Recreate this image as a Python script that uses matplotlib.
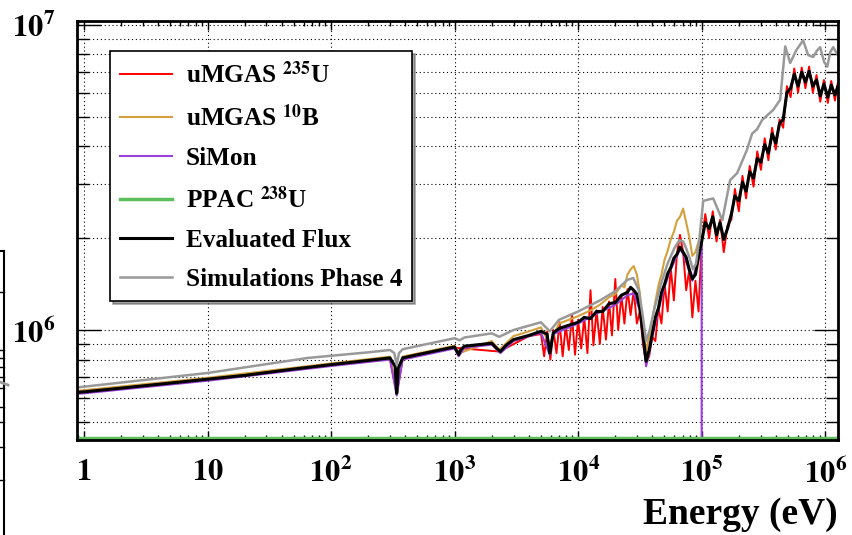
import numpy as np
import matplotlib
matplotlib.use("Agg")
import matplotlib.pyplot as plt
from matplotlib.lines import Line2D
from matplotlib.ticker import LogLocator, FixedLocator, FuncFormatter, NullFormatter

plt.rcParams['font.family'] = ['Liberation Serif', 'DejaVu Serif']
plt.rcParams['mathtext.fontset'] = 'stix'

# Energies in eV, fluxes in units of 1e6

# Evaluated flux (black)
E_eval = [0.88, 1, 2, 5, 10, 20, 50, 100, 200, 300, 330, 340, 350, 380, 500,
          1000, 1080, 1120, 1200, 2000, 2200, 2350, 2600, 3000, 4000, 5000, 5600,
          5900, 6300, 7000, 8000,
          1.00e4, 1.12e4, 1.26e4, 1.41e4, 1.58e4, 1.78e4, 2.00e4, 2.24e4, 2.51e4,
          2.66e4, 2.82e4, 2.99e4, 3.16e4, 3.35e4, 3.55e4, 3.76e4, 3.98e4, 4.22e4,
          4.47e4, 4.73e4, 5.01e4, 5.31e4, 5.62e4, 5.96e4, 6.31e4, 6.68e4, 7.08e4,
          7.50e4, 7.94e4, 8.41e4, 8.91e4, 9.44e4,
          1.00e5, 1.07e5, 1.15e5, 1.23e5, 1.32e5, 1.41e5, 1.51e5, 1.62e5, 1.74e5,
          1.86e5, 2.00e5, 2.14e5, 2.29e5, 2.45e5, 2.63e5, 2.82e5, 3.02e5, 3.24e5,
          3.47e5, 3.72e5, 3.98e5, 4.27e5, 4.57e5, 4.90e5, 5.25e5, 5.62e5, 6.03e5,
          6.46e5, 6.92e5, 7.41e5, 7.94e5, 8.51e5, 9.12e5, 9.77e5, 1.05e6, 1.12e6,
          1.20e6, 1.26e6]
flux_eval = [0.625, 0.627, 0.645, 0.670, 0.690, 0.710, 0.745, 0.770, 0.795, 0.810,
             0.760, 0.620, 0.750, 0.810, 0.830,
             0.880, 0.830, 0.860, 0.885, 0.905, 0.870, 0.850, 0.890, 0.930, 0.960,
             0.990, 0.970, 0.840, 0.980, 1.010, 1.030,
             1.06, 1.10, 1.09, 1.15, 1.15, 1.22, 1.23, 1.30, 1.33,
             1.38, 1.35, 1.31, 1.18, 0.97, 0.79, 0.86, 0.97, 1.10,
             1.18, 1.33, 1.41, 1.53, 1.60, 1.72, 1.77, 1.87, 1.80,
             1.73, 1.58, 1.47, 1.52, 1.74,
             1.95, 2.25, 2.15, 2.35, 2.05, 2.25, 1.98, 2.15, 2.40,
             2.75, 2.65, 3.05, 2.85, 3.30, 3.15, 3.65, 3.55, 4.05,
             3.80, 4.40, 4.10, 4.75, 4.90, 6.00, 6.20, 6.90, 6.30,
             7.00, 6.50, 7.05, 6.30, 6.60, 5.85, 6.40, 5.80, 6.35,
             5.90, 6.25]

# uMGAS 235U (red)
E_u235 = [0.88, 1, 10, 100, 300, 340, 380, 1000, 2300, 4000,
          5.01e3, 5.31e3, 5.62e3, 5.96e3, 6.31e3, 6.68e3, 7.08e3, 7.50e3, 7.94e3,
          8.41e3, 8.91e3, 9.44e3, 1.00e4, 1.06e4, 1.12e4, 1.19e4, 1.26e4, 1.33e4,
          1.41e4, 1.50e4, 1.58e4, 1.68e4, 1.78e4, 1.88e4, 2.00e4, 2.11e4, 2.24e4,
          2.37e4, 2.51e4, 2.66e4, 2.82e4, 2.99e4, 3.16e4, 3.35e4, 3.55e4, 3.76e4,
          3.98e4, 4.22e4, 4.47e4, 4.73e4, 5.01e4, 5.31e4, 5.62e4, 5.96e4, 6.31e4,
          6.68e4, 7.08e4, 7.50e4, 7.94e4, 8.41e4, 8.91e4, 9.44e4, 1.00e5,
          1.07e5, 1.15e5, 1.23e5, 1.32e5, 1.41e5, 1.51e5, 1.62e5, 1.74e5, 1.86e5,
          2.00e5, 2.14e5, 2.29e5, 2.45e5, 2.63e5, 2.82e5, 3.02e5, 3.24e5, 3.47e5,
          3.72e5, 3.98e5, 4.27e5, 4.57e5, 4.90e5, 5.25e5, 5.62e5, 6.03e5, 6.46e5,
          6.92e5, 7.41e5, 7.94e5, 8.51e5, 9.12e5, 9.77e5, 1.05e6, 1.12e6, 1.20e6,
          1.26e6]
flux_u235 = [0.625, 0.627, 0.688, 0.767, 0.805, 0.620, 0.805, 0.875, 0.850, 0.955,
             0.97, 0.82, 0.99, 0.80, 1.00, 0.84, 1.06, 0.82, 1.03,
             0.86, 1.12, 0.83, 1.08, 0.87, 1.10, 0.84, 1.35, 0.89,
             1.16, 0.90, 1.19, 0.93, 1.24, 0.96, 1.47, 1.00, 1.30,
             1.05, 1.36, 1.12, 1.35, 1.05, 1.15, 0.90, 0.78, 0.82,
             0.95, 0.92, 1.18, 1.05, 1.42, 1.15, 1.60, 1.25, 1.78,
             2.05, 1.80, 1.35, 1.58, 1.10, 1.45, 1.15, 1.95,
             2.40, 2.00, 2.45, 1.95, 2.30, 1.80, 2.20, 2.30, 2.90,
             2.45, 3.20, 2.70, 3.45, 2.95, 3.85, 3.35, 4.25, 3.60,
             4.60, 3.90, 4.90, 4.60, 6.30, 5.80, 7.20, 6.00, 7.25,
             6.20, 7.30, 6.00, 6.85, 5.60, 6.60, 5.55, 6.55, 5.65,
             6.40]

# uMGAS 10B (orange)
E_b10 = [0.88, 1, 10, 100, 300, 340, 380, 1000, 1100, 2000, 2300, 3000, 4000,
         5000, 5900, 7000, 1.0e4, 1.26e4, 1.5e4, 1.78e4, 2.0e4, 2.24e4, 2.37e4,
         2.51e4, 2.66e4, 2.82e4, 2.99e4, 3.16e4, 3.35e4, 3.55e4, 3.76e4, 3.98e4,
         4.22e4, 4.47e4, 4.73e4, 5.01e4, 5.31e4, 5.62e4, 5.96e4, 6.31e4, 6.68e4,
         7.08e4, 7.50e4, 7.94e4, 8.41e4, 8.91e4, 9.44e4, 1.0e5]
flux_b10 = [0.632, 0.635, 0.697, 0.777, 0.818, 0.630, 0.818, 0.888, 0.840, 0.920,
            0.860, 0.955, 0.990, 1.02, 0.90, 1.05, 1.11, 1.16, 1.21, 1.28, 1.31,
            1.40, 1.38, 1.52, 1.58, 1.62, 1.52, 1.32, 1.02, 0.85, 0.95, 1.08,
            1.24, 1.40, 1.52, 1.70, 1.82, 1.98, 2.10, 2.28, 2.35, 2.50, 2.25,
            2.02, 1.75, 1.80, 1.95, 2.05]

# SiMon (purple), drops off-scale at 100 keV
E_simon = [0.88, 1, 10, 100, 300, 340, 380, 1000, 1080, 1200, 2000, 2350, 3000,
           5000, 5900, 6300, 1.0e4, 1.41e4, 2.0e4, 2.51e4, 2.82e4, 3.16e4, 3.35e4,
           3.55e4, 3.76e4, 3.98e4, 4.47e4, 5.01e4, 5.62e4, 6.31e4, 6.68e4, 7.08e4,
           7.94e4, 8.41e4, 9.44e4, 1.0e5, 1.0e5]
flux_simon = [0.618, 0.620, 0.682, 0.762, 0.800, 0.610, 0.800, 0.870, 0.820,
              0.875, 0.895, 0.840, 0.920, 0.980, 0.830, 0.970, 1.05, 1.13, 1.21,
              1.30, 1.32, 1.16, 0.95, 0.76, 0.84, 0.95, 1.16, 1.39, 1.58, 1.75,
              1.84, 1.78, 1.56, 1.45, 1.72, 1.90, 0.01]

# PPAC 238U (green), sits at the bottom of the range
E_ppac = [0.88, 1.27e6]
flux_ppac = [0.441, 0.441]

# Simulations Phase 4 (gray)
E_sim = [0.88, 1, 10, 65, 200, 300, 325, 340, 355, 380, 1000, 1100, 1200, 2000,
         2300, 3000, 5000, 5900, 7000, 1.0e4, 1.5e4, 2.0e4, 2.5e4, 2.8e4, 3.1e4,
         3.35e4, 3.55e4, 3.8e4, 4.2e4, 4.7e4, 5.3e4, 6.0e4, 6.6e4, 7.1e4, 7.5e4,
         8.0e4, 8.5e4, 9.0e4, 9.6e4, 1.03e5, 1.24e5, 1.47e5, 1.70e5, 1.94e5,
         2.33e5, 2.56e5, 2.81e5, 3.09e5, 3.79e5, 4.32e5, 4.75e5, 5.21e5, 5.82e5,
         6.63e5, 7.28e5, 8.0e5, 8.61e5, 9.11e5, 9.82e5, 1.04e6, 1.10e6, 1.16e6,
         1.27e6]
flux_sim = [0.648, 0.652, 0.723, 0.810, 0.845, 0.860, 0.840, 0.770, 0.840, 0.865,
            0.940, 0.925, 0.945, 0.975, 0.950, 1.00, 1.06, 0.99, 1.08, 1.15, 1.25,
            1.34, 1.46, 1.48, 1.35, 1.10, 0.92, 1.00, 1.20, 1.42, 1.65, 1.85,
            1.97, 1.95, 1.85, 1.72, 1.58, 1.65, 2.00, 2.65, 2.70, 2.29, 3.10,
            3.27, 3.90, 4.40, 4.55, 4.88, 5.26, 5.68, 8.50, 7.50, 8.25, 8.90,
            7.96, 7.85, 8.25, 8.45, 7.55, 7.30, 8.15, 8.45, 7.96]

x_ticks = [1, 10, 1e2, 1e3, 1e4, 1e5, 1e6]
y_ticks = [1e6, 1e7]

fig = plt.figure(figsize=(8.52, 5.35), dpi=100)
ax = fig.add_axes([77 / 852, 1 - 440 / 535, 761 / 852, 419 / 535])

series = [
    (E_u235, flux_u235, "#ff0000", 1.4, r"uMGAS $^{\mathbf{235}}$U"),
    (E_b10, flux_b10, "#d4a03c", 1.5, r"uMGAS $^{\mathbf{10}}$B"),
    (E_simon, flux_simon, "#9b40d8", 1.5, "SiMon"),
    (E_ppac, flux_ppac, "#5cbf5c", 2.5, r"PPAC $^{\mathbf{238}}$U"),
    (E_eval, flux_eval, "black", 2.2, "Evaluated Flux"),
    (E_sim, flux_sim, "#999999", 1.8, "Simulations Phase 4"),
]
for i, (e, f, c, lw, lab) in enumerate(series):
    ax.plot(e, np.array(f) * 1e6, color=c, lw=lw, label=lab, zorder=3 + i)

ax.set_xscale("log")
ax.set_yscale("log")
ax.set_xlim(0.878, 1.27e6)
ax.set_ylim(4.36e5, 1.03e7)

def fmt_x(v, pos):
    if v == 1:
        return r"$\mathbf{1}$"
    if v == 10:
        return r"$\mathbf{10}$"
    return r"$\mathbf{10^{%d}}$" % int(round(np.log10(v)))

ax.xaxis.set_major_locator(FixedLocator(x_ticks))
ax.xaxis.set_minor_locator(LogLocator(base=10, subs=np.arange(2, 10), numticks=100))
ax.xaxis.set_major_formatter(FuncFormatter(fmt_x))
ax.xaxis.set_minor_formatter(NullFormatter())
ax.yaxis.set_major_locator(FixedLocator(y_ticks))
ax.yaxis.set_minor_locator(LogLocator(base=10, subs=np.arange(2, 10), numticks=100))
ax.yaxis.set_major_formatter(FuncFormatter(
    lambda v, p: r"$\mathbf{10^{%d}}$" % int(round(np.log10(v)))))
ax.yaxis.set_minor_formatter(NullFormatter())

ax.tick_params(axis="x", which="major", direction="in", length=6.5, width=1,
               top=True, pad=13, labelsize=22)
ax.tick_params(axis="x", which="minor", direction="in", length=3.5, width=1, top=True)
ax.tick_params(axis="y", which="major", direction="in", length=17, width=1,
               right=True, pad=16, labelsize=22)
ax.tick_params(axis="y", which="minor", direction="in", length=8.5, width=1, right=True)

# ROOT style dotted grid
ax.grid(True, axis="x", which="major", ls=(0, (1, 2.5)), color="black", lw=0.8)
ax.grid(True, axis="y", which="both", ls=(0, (1, 2.5)), color="black", lw=0.8)
ax.set_axisbelow(True)
for s in ax.spines.values():
    s.set_linewidth(2)
    s.set_zorder(20)

leg = ax.legend(loc="upper left", bbox_to_anchor=(110 / 852, 1 - 51 / 535),
                bbox_transform=fig.transFigure, borderaxespad=0,
                prop={"family": "Liberation Serif", "weight": "bold", "size": 18.2},
                handlelength=2.07, handletextpad=0.55, labelspacing=0.64,
                borderpad=0.38, fancybox=False, shadow=True, framealpha=1,
                edgecolor="black")
leg.get_frame().set_linewidth(1.2)
leg.set_zorder(30)

fig.text(838 / 852, 1 - 515 / 535, "Energy (eV)", ha="right", va="center",
         fontsize=27, fontweight="bold", family="Liberation Serif")

# edge of the neighbouring panel on the left
fig.add_artist(Line2D([4 / 852, 4 / 852], [0, 1 - 251 / 535],
                      transform=fig.transFigure, color="black", lw=1.5))
fig.add_artist(Line2D([0, 4 / 852], [1 - 251 / 535, 1 - 251 / 535],
                      transform=fig.transFigure, color="black", lw=1.5))
for yy in [292, 350, 358, 367, 377, 388, 407, 422, 447, 480]:
    fig.add_artist(Line2D([0, 4 / 852], [1 - yy / 535, 1 - yy / 535],
                          transform=fig.transFigure, color="black", lw=1))
fig.add_artist(Line2D([0, 8 / 852], [1 - 382 / 535, 1 - 385 / 535],
                      transform=fig.transFigure, color="#999999", lw=2))

fig.savefig("out.png", dpi=100)
